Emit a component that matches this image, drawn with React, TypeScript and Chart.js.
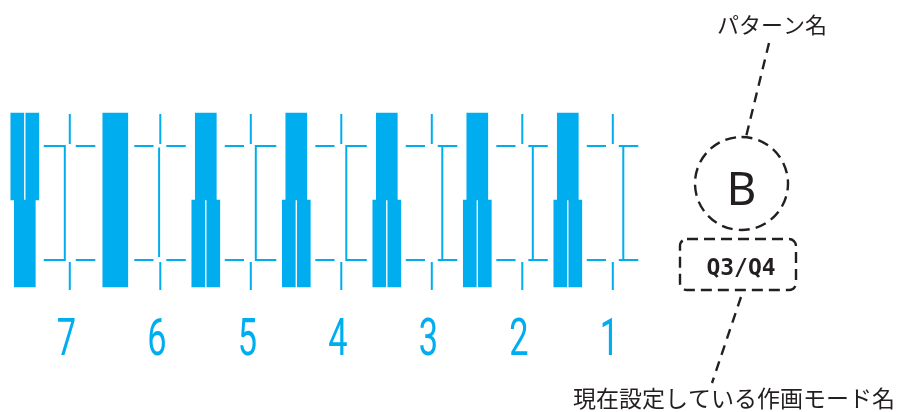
import React, { useEffect, useRef } from 'react';
import { Chart, registerables } from 'chart.js';

Chart.register(...registerables);

// ---------------- data ----------------
const digitLabels = ['7', '6', '5', '4', '3', '2', '1'];
// 1 = half drawn as two thin bars, 0 = one wide bar
const topSplit = [1, 0, 0, 0, 0, 0, 0];
const bottomSplit = [0, 0, 1, 1, 1, 1, 1];
// shape of the thin connector between the dashes of each separator
const bracketTypes = [']', '|', '[', '[', 'T', 'T', 'T'];
const patternCaption = 'パターン名';
const patternName = 'B';
const modeName = 'Q3/Q4';
const modeCaption = '現在設定している作画モード名';

// ---------------- layout / style ----------------
const W = 901;
const H = 412;
const PITCH = 90.5; // px per x unit (one digit position)
const X0 = 69.8; // px of x unit 0
const ROW = 87; // px per y unit (one half of a glyph)
const Y0 = 287; // px of y unit 0
const ux = (p: number) => (p - X0) / PITCH;
const dx = (p: number) => p / PITCH;
const uy = (p: number) => (Y0 - p) / ROW;

const CYAN = '#00AEEF';
const INK = '#231F20';

type Pt = { x: number; y: number | null | number[] };

// glyph bars
const GLYPH_OFF = dx(-45);
const SPLIT_HALF = dx(7.5);
const splitBars: Pt[] = [];
const singleBars: Pt[] = [];
const fullBars: Pt[] = [];
digitLabels.forEach((_, i) => {
  const c = i + GLYPH_OFF;
  const t = topSplit[i];
  const b = bottomSplit[i];
  if (!t && !b) {
    fullBars.push({ x: c, y: [0, 2] });
    return;
  }
  const halves: [number, number, number][] = [
    [t, 1, 2],
    [b, 0, 1],
  ];
  for (const [s, lo, hi] of halves) {
    if (s) {
      splitBars.push({ x: c - SPLIT_HALF, y: [lo, hi] }, { x: c + SPLIT_HALF, y: [lo, hi] });
    } else {
      singleBars.push({ x: c, y: [lo, hi] });
    }
  }
});

// separator thin lines
const sepLines: Pt[] = [];
const seg = (x1: number, y1: number, x2: number, y2: number) => {
  sepLines.push({ x: x1, y: y1 }, { x: x2, y: y2 }, { x: x2, y: null });
};
const V_OFFSET: Record<string, number> = { ']': -5, '|': -1.2, '[': 5, T: 10.5 };
bracketTypes.forEach((bt, i) => {
  const yT = uy(146);
  const yB = uy(260);
  const leftEnd = bt === ']' ? -5 : -6.8;
  const rightStart = bt === '[' ? 5 : 6;
  for (const yy of [yT, yB]) {
    seg(i + dx(-26), yy, i + dx(leftEnd), yy);
    seg(i + dx(rightStart), yy, i + dx(25.5), yy);
  }
  seg(i, uy(114), i, uy(144));
  seg(i, uy(262), i, uy(290));
  const vx = i + dx(V_OFFSET[bt]);
  const vTop = bt === '|' ? 147.5 : 145;
  const vBot = bt === '|' ? 257 : 261;
  seg(vx, uy(vTop), vx, uy(vBot));
});

// dashed leader lines of the call-outs
const leaderLines: Pt[] = [
  { x: ux(769), y: uy(43) },
  { x: ux(746), y: uy(137) },
  { x: ux(746), y: null },
  { x: ux(741), y: uy(297) },
  { x: ux(712), y: uy(383) },
];

// call-out geometry (in axis units)
const CIRCLE = { x: ux(741.5), y: uy(183.5), r: 46.5 };
const BOX = { x1: ux(680), x2: ux(796), y1: uy(239), y2: uy(290), r: 7 };
const LABEL_BASE = uy(355);

const annotationPlugin = {
  id: 'callouts',
  afterDatasetsDraw(chart: any) {
    const { ctx, scales } = chart;
    const X = (u: number) => scales.x.getPixelForValue(u);
    const Y = (u: number) => scales.y.getPixelForValue(u);
    ctx.save();

    // digit labels of the x axis, drawn condensed
    const xs = scales.x;
    ctx.fillStyle = CYAN;
    ctx.textAlign = 'center';
    ctx.textBaseline = 'alphabetic';
    ctx.font = '400 52px Roboto, "DejaVu Sans", sans-serif';
    xs.ticks.forEach((tk: any, i: number) => {
      ctx.save();
      ctx.translate(xs.getPixelForTick(i) - 3.5, Y(LABEL_BASE));
      ctx.scale(0.66, 1);
      ctx.fillText(String(tk.label), 0, 0);
      ctx.restore();
    });

    ctx.strokeStyle = INK;
    ctx.lineWidth = 2.4;
    ctx.setLineDash([11, 6.2]);
    // circle
    ctx.beginPath();
    ctx.arc(X(CIRCLE.x), Y(CIRCLE.y), CIRCLE.r, -Math.PI / 2, Math.PI * 1.5);
    ctx.stroke();
    // rounded rectangle
    const l = X(BOX.x1);
    const r = X(BOX.x2);
    const t = Y(BOX.y1);
    const b = Y(BOX.y2);
    const rr = BOX.r;
    ctx.setLineDash([11, 6]);
    ctx.beginPath();
    ctx.moveTo(l + rr, t);
    ctx.lineTo(r - rr, t);
    ctx.arcTo(r, t, r, t + rr, rr);
    ctx.lineTo(r, b - rr);
    ctx.arcTo(r, b, r - rr, b, rr);
    ctx.lineTo(l + rr, b);
    ctx.arcTo(l, b, l, b - rr, rr);
    ctx.lineTo(l, t + rr);
    ctx.arcTo(l, t, l + rr, t, rr);
    ctx.closePath();
    ctx.stroke();
    ctx.setLineDash([]);

    // texts
    ctx.fillStyle = INK;
    ctx.textAlign = 'center';
    ctx.textBaseline = 'middle';
    ctx.font = '22px "Noto Sans CJK JP", "Noto Sans", sans-serif';
    ctx.fillText(patternCaption, X(ux(772)), Y(uy(25)));

    ctx.font = '23px "Noto Sans CJK JP", "Noto Sans", sans-serif';
    ctx.fillText(modeCaption, X(ux(734)), Y(uy(398)));

    ctx.textBaseline = 'alphabetic';
    ctx.font = '46px "Noto Sans", sans-serif';
    ctx.fillText(patternName, X(CIRCLE.x), Y(uy(205)));

    ctx.font = 'bold 23px "DejaVu Sans Mono", monospace';
    ctx.fillText(modeName, X(ux(741)), Y(uy(275)));
    ctx.restore();
  },
};

export default function App() {
  const ref = useRef<HTMLCanvasElement | null>(null);

  useEffect(() => {
    document.body.style.margin = '0';
    const canvas = ref.current;
    if (!canvas) return;
    const barBase = {
      type: 'bar' as const,
      backgroundColor: CYAN,
      borderWidth: 0,
      stack: 'glyph',
      grouped: true,
    };
    const chart = new Chart(canvas, {
      type: 'bar',
      data: {
        datasets: [
          { ...barBase, label: 'split', data: splitBars as any, barThickness: 13 },
          { ...barBase, label: 'single', data: singleBars as any, barThickness: 21 },
          { ...barBase, label: 'full', data: fullBars as any, barThickness: 25 },
          {
            type: 'line',
            label: 'separators',
            data: sepLines as any,
            borderColor: CYAN,
            borderWidth: 2,
            pointRadius: 0,
            spanGaps: false,
            fill: false,
            tension: 0,
          },
          {
            type: 'line',
            label: 'leaders',
            data: leaderLines as any,
            borderColor: INK,
            borderWidth: 2.4,
            borderDash: [10, 7],
            pointRadius: 0,
            spanGaps: false,
            fill: false,
            tension: 0,
          },
        ] as any,
      },
      options: {
        responsive: false,
        maintainAspectRatio: false,
        animation: false,
        devicePixelRatio: 1,
        events: [],
        layout: { padding: 0 },
        plugins: {
          legend: { display: false },
          tooltip: { enabled: false },
          title: { display: false },
        },
        scales: {
          x: {
            type: 'linear',
            min: ux(0),
            max: ux(W),
            offset: false,
            position: { y: uy(307) } as any,
            grid: { display: false, drawTicks: false },
            border: { display: false },
            afterBuildTicks: (axis: any) => {
              axis.ticks = digitLabels.map((_, i) => ({ value: i }));
            },
            ticks: {
              autoSkip: false,
              maxRotation: 0,
              minRotation: 0,
              padding: 0,
              color: 'rgba(0,0,0,0)',
              font: { size: 50 },
              callback: (_v: any, idx: number) => digitLabels[idx],
            },
          },
          y: {
            type: 'linear',
            min: uy(H),
            max: uy(0),
            display: false,
            stacked: false,
            grid: { display: false },
          },
        },
      } as any,
      plugins: [annotationPlugin],
    });
    return () => chart.destroy();
  }, []);

  return (
    <div style={{ width: W, height: H }}>
      <canvas ref={ref} width={W} height={H} style={{ display: 'block', width: W, height: H }} />
    </div>
  );
}
